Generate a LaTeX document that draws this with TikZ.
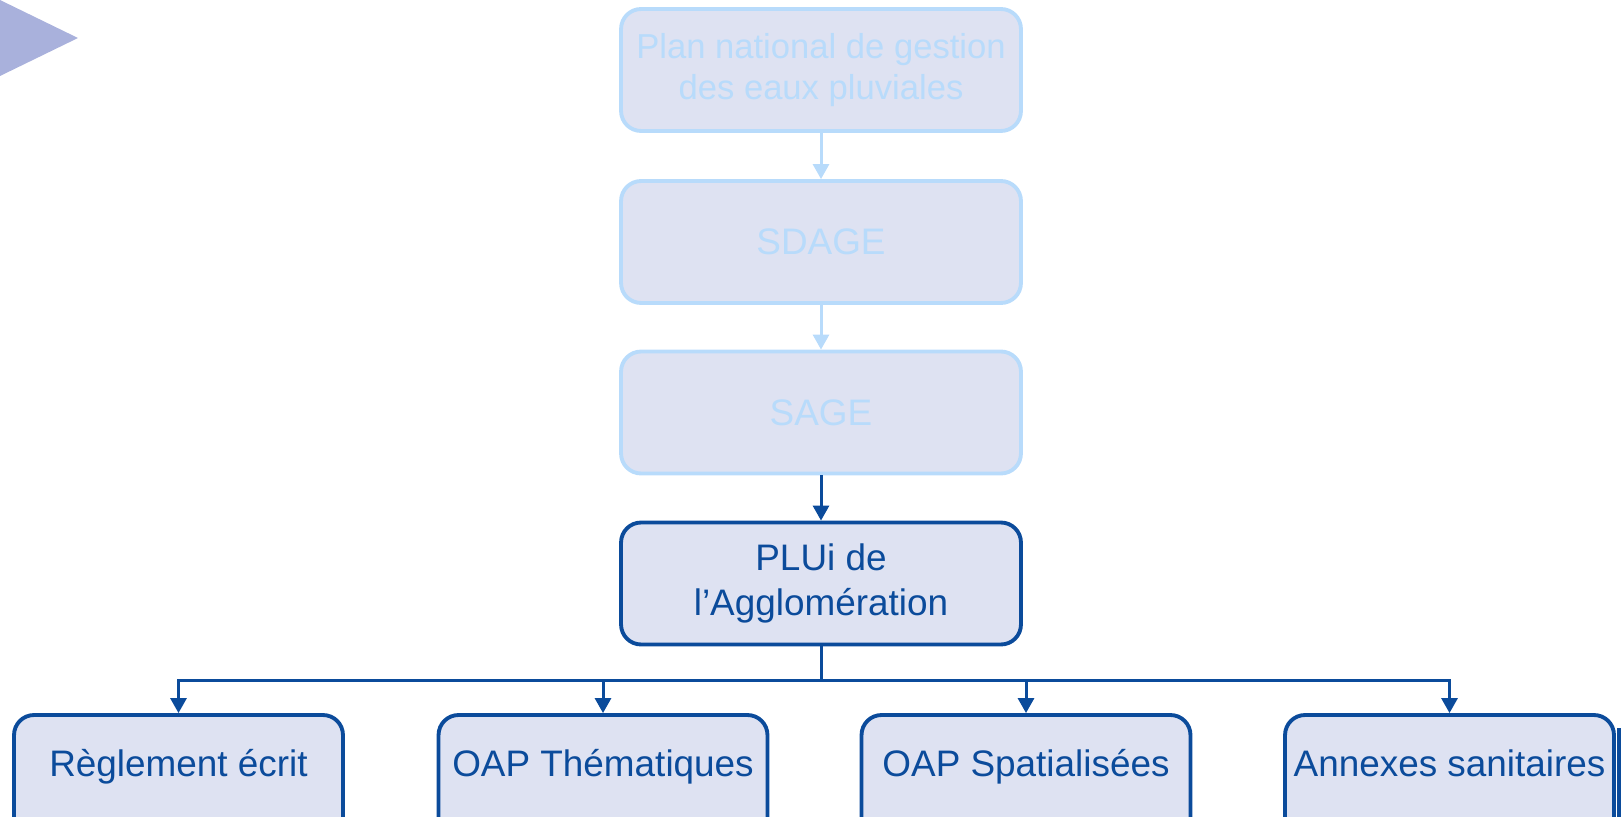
\documentclass[tikz,border=0pt]{standalone}
\usepackage{fontspec}
\setmainfont{Liberation Sans}
\usetikzlibrary{arrows.meta}
\definecolor{boxfill}{HTML}{DEE2F2}
\definecolor{paleblue}{HTML}{B8DBFB}
\definecolor{darkblue}{HTML}{0B4B9B}
\definecolor{markerblue}{HTML}{A9B1DC}
\begin{document}
\begin{tikzpicture}
      [x=0.02cm,y=-0.02cm,>={Triangle[length=0.3cm,width=0.32cm]},
      box/.style={rectangle,rounded corners=0.4cm,fill=boxfill,line width=2.2pt,
        minimum width=8cm,minimum height=2.44cm,align=center,
        font=\fontsize{21}{25.4}\selectfont},
      pale node/.style={box,draw=paleblue,text=paleblue},
      dark node/.style={box,draw=darkblue,text=darkblue},
      leaf node/.style={dark node,minimum width=6.58cm,text height=15pt,text depth=15pt},
      pale link/.style={->,paleblue,line width=1.7pt},
      dark link/.style={darkblue,line width=1.7pt}]
      \useasboundingbox (0,0) rectangle (1621,817);
      \clip (0,0) rectangle (1621,817);
      \fill[markerblue] (0,0) -- (78,38) -- (0,76) -- cycle;
      \node[pale node,font=\fontsize{19.7}{23.3}\selectfont] (plan) at (821,70)
        {Plan national de gestion\\des eaux pluviales};
      \node[pale node] (sdage) at (821,242) {SDAGE};
      \node[pale node] (sage) at (821,412.5) {SAGE};
      \node[dark node] (plui) at (821,583.5) {PLUi de\\l’Agglomération};
      \node[leaf node] (reglement) at (178.5,776) {Règlement écrit};
      \node[leaf node] (oapth) at (603,776) {OAP Thématiques};
      \node[leaf node] (oapsp) at (1026,776) {OAP Spatialisées};
      \node[leaf node] (annexes) at (1449.5,776) {Annexes sanitaires};
      \coordinate (bus) at (821,680);
      \draw[pale link] (plan) -- (sdage);
      \draw[pale link] (sdage) -- (sage);
      \draw[dark link,->] (sage) -- (plui);
      \draw[dark link] (plui) -- (bus);
      \foreach \n in {reglement,oapth,oapsp,annexes}
        \draw[dark link,->] (bus) -| (\n);
      \fill[darkblue] (1617,728) rectangle (1621,817);
    \end{tikzpicture}
\end{document}
